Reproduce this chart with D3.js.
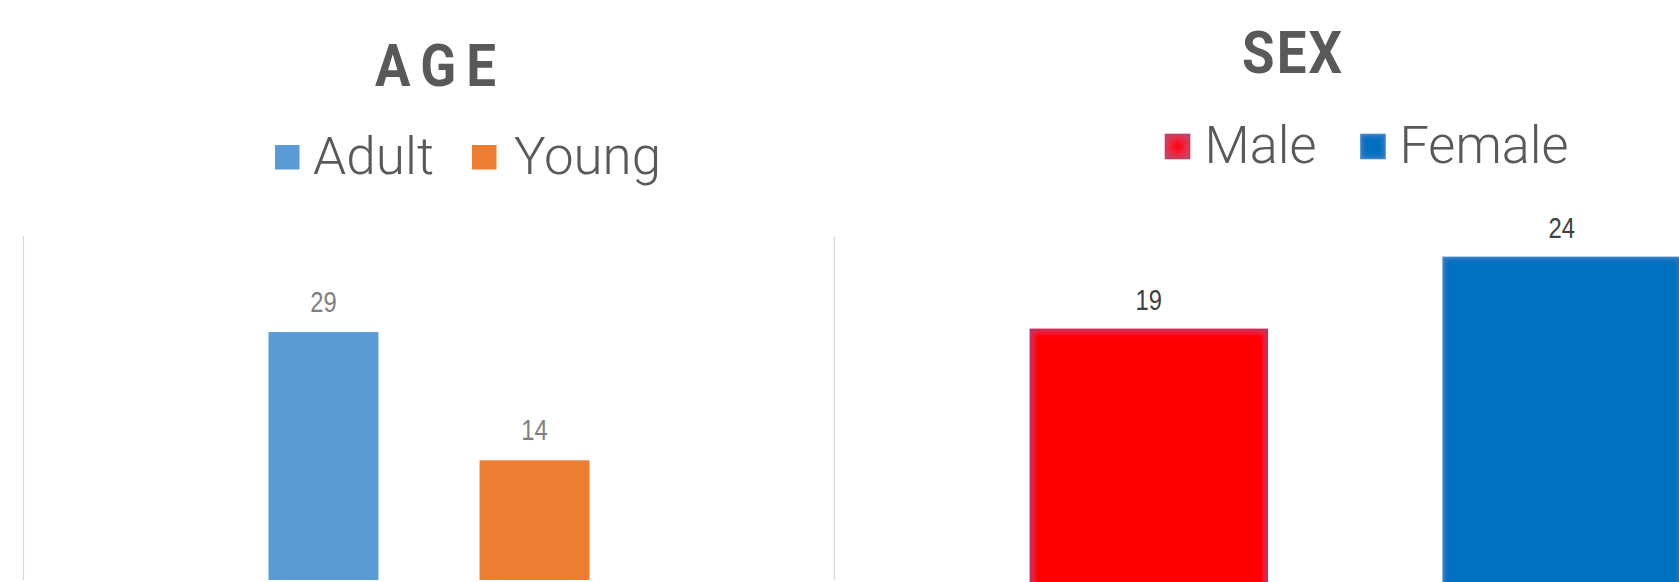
<!DOCTYPE html>
<html>
<head>
<meta charset="utf-8">
<script src="https://cdn.jsdelivr.net/npm/d3@7"></script>
<style>
  html, body { margin: 0; padding: 0; background: #ffffff; }
  svg { display: block; }
</style>
</head>
<body>
<svg id="chart" width="1679" height="582"></svg>
<script>
// ---- Data ----
const ageTitle = "AGE";
const ageCategories = ["Adult", "Young"];
const ageValues = [29, 14];
const ageColors = ["#5b9bd5", "#ed7d31"];

const sexTitle = "SEX";
const sexCategories = ["Male", "Female"];
const sexValues = [19, 24];
const sexColors = ["#ff0000", "#0070c0"];
const sexStrokes = ["#ee1020", "#2e7bc4"];

const svg = d3.select("#chart");

// filters for the glow-edged bars of the SEX chart
const defs = svg.append("defs");
function innerGlow(id, color, opacity, sd) {
  const f = defs.append("filter").attr("id", id)
    .attr("x", "-5%").attr("y", "-5%").attr("width", "110%").attr("height", "110%");
  f.append("feGaussianBlur").attr("in", "SourceAlpha").attr("stdDeviation", sd).attr("result", "blur");
  f.append("feComposite").attr("in", "SourceAlpha").attr("in2", "blur")
    .attr("operator", "arithmetic").attr("k2", 1).attr("k3", -1).attr("result", "edge");
  f.append("feFlood").attr("flood-color", color).attr("flood-opacity", opacity).attr("result", "col");
  f.append("feComposite").attr("in", "col").attr("in2", "edge").attr("operator", "in").attr("result", "shadow");
  const m = f.append("feMerge");
  m.append("feMergeNode").attr("in", "SourceGraphic");
  m.append("feMergeNode").attr("in", "shadow");
}
innerGlow("glowMale", "#4a4a90", 1, 3.5);
innerGlow("glowFemale", "#5a9ad8", 0.6, 3);
innerGlow("glowMaleSq", "#6a5a8a", 1, 6);

const titleFont = "Roboto, 'DejaVu Sans', sans-serif";
const legendFont = "Roboto, 'Noto Sans', sans-serif";
const labelFont = "'Liberation Sans', Arial, sans-serif";

// ---- gridlines (plot edges) ----
const plotTop = 236, ageBase = 580;
[23.5, 834.5].forEach(x => {
  svg.append("line").attr("x1", x).attr("x2", x).attr("y1", plotTop).attr("y2", ageBase)
    .attr("stroke", "#d9d9d9").attr("stroke-width", 1.2);
});

// condensed title helper: horizontally squeezed glyphs, spread to a target width
function title(txt, x, y, width) {
  const sx = 0.88;
  svg.append("g").attr("transform", `translate(${x},${y}) scale(${sx},1)`)
    .append("text").attr("x", 0).attr("y", 0)
    .attr("font-family", titleFont).attr("font-weight", "bold").attr("font-size", 60)
    .attr("fill", "#595959").attr("textLength", width / sx).attr("lengthAdjust", "spacing")
    .text(txt);
}
// condensed data label helper
function label(g, txt, cx, y, color) {
  g.append("g").attr("transform", `translate(${cx},${y}) scale(0.82,1)`)
    .append("text").attr("text-anchor", "middle")
    .attr("font-family", labelFont).attr("font-size", 29)
    .attr("fill", color).text(txt);
}

// ---- AGE chart ----
const xAge = d3.scaleBand().domain(ageCategories).range([23.5, 834.5])
  .paddingInner(0.479).paddingOuter(1.161);
const yAge = d3.scaleLinear().domain([0, 40]).range([ageBase, 238]);

svg.append("g").selectAll("rect").data(ageCategories).join("rect")
  .attr("x", d => xAge(d))
  .attr("width", xAge.bandwidth())
  .attr("y", (d, i) => yAge(ageValues[i]))
  .attr("height", (d, i) => yAge(0) - yAge(ageValues[i]))
  .attr("fill", (d, i) => ageColors[i]);

const ageLabels = svg.append("g");
ageCategories.forEach((c, i) =>
  label(ageLabels, ageValues[i], xAge(c) + xAge.bandwidth() / 2, yAge(ageValues[i]) - 20, "#7f7f7f"));

title(ageTitle, 375, 85.5, 121);

const ageLegend = [
  { sq: 275, tx: 313, w: 121 },
  { sq: 472, tx: 514, w: 147 }
];
ageCategories.forEach((c, i) => {
  svg.append("rect").attr("x", ageLegend[i].sq).attr("y", 145).attr("width", 24.5).attr("height", 24.5)
    .attr("fill", ageColors[i]);
  svg.append("text").attr("x", ageLegend[i].tx).attr("y", 173.5)
    .attr("font-family", legendFont).attr("font-weight", 300).attr("font-size", 51)
    .attr("fill", "#595959").attr("textLength", ageLegend[i].w).attr("lengthAdjust", "spacingAndGlyphs")
    .text(c);
});

// ---- SEX chart ----
const sexBase = 603;
const xSex = d3.scaleBand().domain(sexCategories).range([834.5, 1876])
  .paddingInner(0.4262).paddingOuter(0.4745);
const ySex = d3.scaleLinear().domain([0, 30]).range([sexBase, 171]);

svg.append("g").selectAll("rect").data(sexCategories).join("rect")
  .attr("x", d => xSex(d))
  .attr("width", xSex.bandwidth())
  .attr("y", (d, i) => ySex(sexValues[i]))
  .attr("height", (d, i) => ySex(0) - ySex(sexValues[i]))
  .attr("fill", (d, i) => sexColors[i])
  .attr("stroke", (d, i) => sexStrokes[i]).attr("stroke-width", 1.5)
  .attr("filter", (d, i) => i === 0 ? "url(#glowMale)" : "url(#glowFemale)");

const sexLabels = svg.append("g");
sexCategories.forEach((c, i) =>
  label(sexLabels, sexValues[i], xSex(c) + xSex.bandwidth() / 2, ySex(sexValues[i]) - 19, "#404040"));

title(sexTitle, 1242, 72.5, 100);

const sexLegend = [
  { sq: 1165.5, tx: 1204.5, w: 112 },
  { sq: 1361, tx: 1399.5, w: 169 }
];
sexCategories.forEach((c, i) => {
  svg.append("rect").attr("x", sexLegend[i].sq).attr("y", 134.5).attr("width", 24).attr("height", 24)
    .attr("fill", sexColors[i]).attr("stroke", sexStrokes[i]).attr("stroke-width", 1.5)
    .attr("filter", i === 0 ? "url(#glowMaleSq)" : "url(#glowFemale)");
  svg.append("text").attr("x", sexLegend[i].tx).attr("y", 163)
    .attr("font-family", legendFont).attr("font-weight", 300).attr("font-size", 51)
    .attr("fill", "#595959").attr("textLength", sexLegend[i].w).attr("lengthAdjust", "spacingAndGlyphs")
    .text(c);
});
</script>
</body>
</html>
